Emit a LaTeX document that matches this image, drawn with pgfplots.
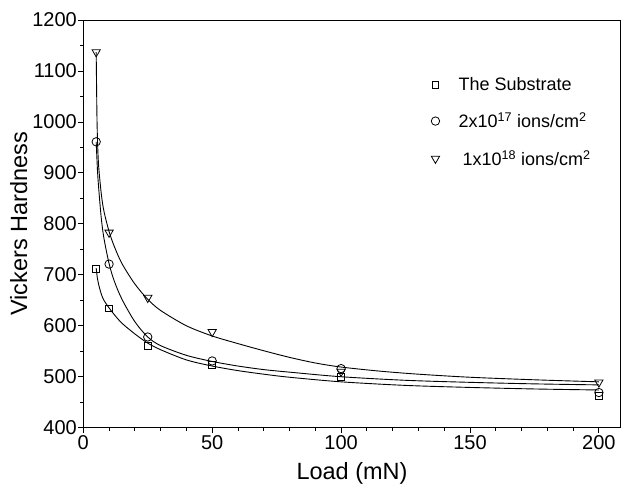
\documentclass[border=0pt]{standalone}
\usepackage{pgfplots}
\pgfplotsset{compat=1.18}
\usepackage{fontspec}
\setmainfont{Liberation Sans}
\begin{document}
\begin{tikzpicture}
\begin{axis}[
  scale only axis,
  width=537.5bp, height=407.7bp,
  at={(0,0)}, anchor=south west,
  xmin=0, xmax=208.5, ymin=400, ymax=1200,
  xtick={0,50,100,150,200}, minor x tick num=4,
  ytick={400,500,...,1200}, minor y tick num=1,
  xtick pos=bottom, ytick pos=left,
  tick align=outside,
  major tick length=5bp, minor tick length=3bp,
  axis line style={line width=0.9bp},
  every tick/.style={line width=0.8bp, black},
  /pgf/number format/assume math mode=true,
  /pgf/number format/1000 sep={},
  tick label style={font=\fontsize{20bp}{24bp}\selectfont},
  yticklabel style={xshift=2bp},
  xticklabel style={yshift=1bp},
  xlabel={Load (mN)}, ylabel={Vickers Hardness},
  label style={font=\fontsize{23.5bp}{28bp}\selectfont},
  xlabel style={yshift=-6bp},
  ylabel style={yshift=-2bp},
  legend style={draw=none, fill=none, at={(axis cs:134.9,1088)}, anchor=north west,
    font=\fontsize{18bp}{21bp}\selectfont, row sep=21bp, inner sep=0pt,
    nodes={inner sep=0pt},
    /tikz/every odd column/.append style={column sep=19bp}},
  legend cell align=left,
]
% fitted curves
\addplot[black, line width=0.9bp, smooth, forget plot] coordinates {
(5,713) (5.5,692) (6,680) (7,662) (8,650) (10,635) (12,622) (15,605) (20,584) (25,566) (30,553) (40,533) (50,521) (60,512) (70,505) (80,499) (100,490) (125,483) (150,479) (175,476) (200,474)};
\addplot[black, line width=0.9bp, smooth, forget plot] coordinates {
(5,961) (5.5,905) (6,868) (7,810) (8,772) (10,722) (12,688) (15,652) (20,608) (25,578) (30,561) (40,542) (50,530) (60,521) (70,514) (80,509) (100,500) (125,493) (150,489) (175,486) (200,484)};
\addplot[black, line width=0.9bp, smooth, forget plot] coordinates {
(5,1137) (5.3,1010) (5.6,950) (6,910) (7,858) (8,825) (10,785) (12,756) (15,722) (20,682) (25,652) (30,630) (40,600) (50,580) (60,565) (70,551) (80,538) (90,527) (100,519) (115,511) (130,505) (150,499) (175,494) (200,490)};
% data
\addplot[only marks, mark=square, mark size=3.4bp, mark options={line width=0.8bp, fill=white}] coordinates {
(5,711) (10,634) (25,560) (50,524) (100,500) (200,462)};
\addlegendentry{The Substrate}
\addplot[only marks, mark=o, mark size=4.2bp, mark options={line width=0.8bp}] coordinates {
(5,961) (10,721) (25,578) (50,531) (100,516) (200,469)};
\addlegendentry{2x10\textsuperscript{17} ions/cm\textsuperscript{2}}
\addplot[only marks, mark=triangle, mark size=4.8bp, mark options={line width=0.8bp, rotate=180}] coordinates {
(5,1137) (10,783) (25,655) (50,588) (100,510) (200,489)};
\addlegendentry{\hspace{4bp}1x10\textsuperscript{18} ions/cm\textsuperscript{2}}
\end{axis}
\pgfresetboundingbox
\path[use as bounding box] (-83.3bp,-64.3bp) rectangle (537.7bp,427.7bp);
\end{tikzpicture}
\end{document}
